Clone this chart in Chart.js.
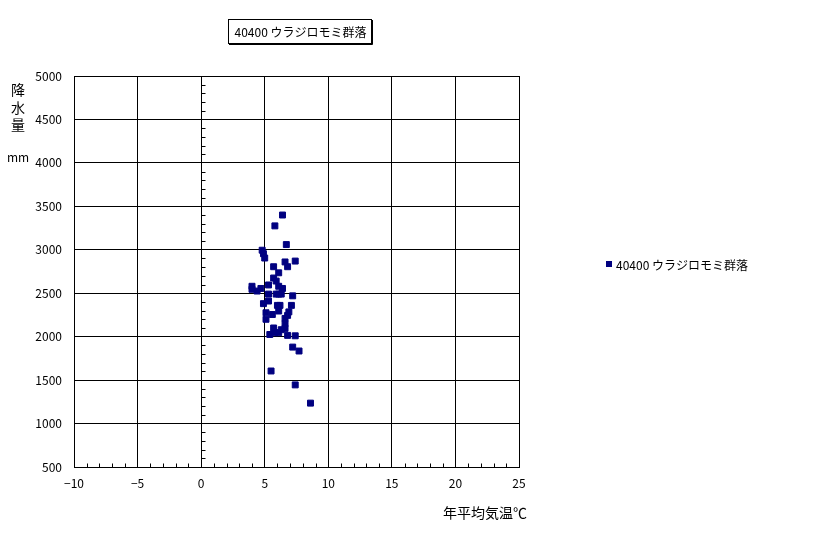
<!DOCTYPE html>
<html>
<head>
<meta charset="utf-8">
<script src="https://cdn.jsdelivr.net/npm/chart.js@4/dist/chart.umd.min.js"></script>
<style>
  body { margin: 0; background: #fff; }
  canvas { display: block; }
</style>
</head>
<body>
<canvas id="chartScatter" width="816" height="534"></canvas>
<script>
// データ: 年平均気温 (℃) と 降水量 (mm)
const seriesName = '40400 ウラジロモミ群落';
const temp = [6.4, 5.8, 6.7, 4.8, 4.9, 5.0, 7.4, 6.6, 6.8, 5.7, 6.1, 5.7, 5.9, 6.1, 5.3, 6.4,
  4.0, 4.0, 4.4, 4.7, 5.3, 5.9, 6.1, 6.3, 7.2, 4.9, 5.3, 6.0, 6.2, 7.1, 5.1, 5.6, 6.1, 6.9,
  6.8, 5.1, 6.6, 6.6, 5.7, 6.3, 6.6, 5.4, 5.8, 6.1, 6.8, 7.4, 7.2, 7.7, 5.5, 7.4, 8.6];
const rain = [3400, 3275, 3060, 2995, 2955, 2905, 2870, 2860, 2805, 2805, 2735, 2675, 2640, 2580, 2595, 2555,
  2580, 2545, 2525, 2555, 2490, 2490, 2490, 2490, 2470, 2380, 2410, 2360, 2360, 2360, 2275, 2255, 2295, 2285,
  2245, 2200, 2210, 2150, 2100, 2080, 2095, 2025, 2045, 2045, 2015, 2010, 1880, 1835, 1605, 1445, 1235];
const xTicks = [-10, -5, 0, 5, 10, 15, 20, 25];
const yTicks = [500, 1000, 1500, 2000, 2500, 3000, 3500, 4000, 4500, 5000];

const navy = '#000080';
const font = '"Noto Sans CJK JP", sans-serif';

const points = temp.map((t, i) => ({ x: t, y: rain[i] }));

// 補助目盛り・タイトル・凡例などを描く
const decor = {
  id: 'decor',
  afterDraw(chart) {
    const c = chart.ctx;
    const xs = chart.scales.x, ys = chart.scales.y;
    const area = chart.chartArea;
    c.save();
    c.strokeStyle = '#000';
    c.lineWidth = 1;
    // x=0 の縦軸の補助目盛り
    const x0 = Math.round(xs.getPixelForValue(0)) + 0.5;
    c.beginPath();
    for (let v = yTicks[0]; v <= yTicks[yTicks.length - 1]; v += 100) {
      if (v % 500 === 0) continue;
      const py = Math.round(ys.getPixelForValue(v)) + 0.5;
      c.moveTo(x0, py); c.lineTo(x0 + 4, py);
    }
    // 下の横軸の補助目盛り
    const yb = Math.round(area.bottom) + 0.5;
    for (let v = xTicks[0]; v <= xTicks[xTicks.length - 1]; v += 1) {
      if (v % 5 === 0) continue;
      const px = Math.round(xs.getPixelForValue(v)) + 0.5;
      c.moveTo(px, yb); c.lineTo(px, yb - 4);
    }
    c.stroke();

    // タイトル枠
    c.font = '12px ' + font;
    c.fillStyle = '#000';
    c.textBaseline = 'middle';
    c.textAlign = 'center';
    c.strokeRect(228.5, 19.5, 143, 24);
    c.beginPath();
    c.moveTo(229, 44.5); c.lineTo(372.5, 44.5); c.lineTo(372.5, 20);
    c.stroke();
    c.fillText(seriesName, 300.5, 32);

    // 縦軸タイトル
    c.font = '14px ' + font;
    ['降', '水', '量'].forEach((ch, i) => c.fillText(ch, 18, 90 + i * 17.5));
    c.font = '12px ' + font;
    c.fillText('mm', 18, 157);

    // 横軸タイトル
    c.font = '14px ' + font;
    c.textAlign = 'left';
    c.fillText('年平均気温℃', 443, 513);

    // 凡例
    c.fillStyle = navy;
    c.fillRect(606, 261, 6, 6);
    c.fillStyle = '#000';
    c.font = '12px ' + font;
    c.fillText(seriesName, 616, 265);
    c.restore();
  }
};

new Chart(document.getElementById('chartScatter').getContext('2d'), {
  type: 'scatter',
  data: {
    datasets: [{
      label: seriesName,
      data: points,
      pointStyle: 'rect',
      pointRadius: 4.2,
      borderWidth: 1,
      backgroundColor: navy,
      borderColor: navy
    }]
  },
  options: {
    responsive: false,
    animation: false,
    layout: { padding: { left: 0, top: 76, right: 297, bottom: 0 } },
    plugins: {
      legend: { display: false },
      tooltip: { enabled: false }
    },
    scales: {
      x: {
        type: 'linear',
        min: xTicks[0],
        max: xTicks[xTicks.length - 1],
        afterBuildTicks: s => { s.ticks = xTicks.map(v => ({ value: v })); },
        afterFit: s => { s.height = 67; },
        grid: { color: '#000', drawTicks: false },
        border: { color: '#000' },
        ticks: {
          padding: 9,
          color: '#000',
          font: { family: font, size: 12 },
          callback: v => String(v).replace('-', '−')
        }
      },
      y: {
        type: 'linear',
        min: yTicks[0],
        max: yTicks[yTicks.length - 1],
        afterBuildTicks: s => { s.ticks = yTicks.map(v => ({ value: v })); },
        afterFit: s => { s.width = 74; },
        grid: { color: '#000', drawTicks: false },
        border: { color: '#000' },
        ticks: {
          padding: 12,
          color: '#000',
          font: { family: font, size: 12 },
          callback: v => String(v)
        }
      }
    }
  },
  plugins: [decor]
});
</script>
</body>
</html>
